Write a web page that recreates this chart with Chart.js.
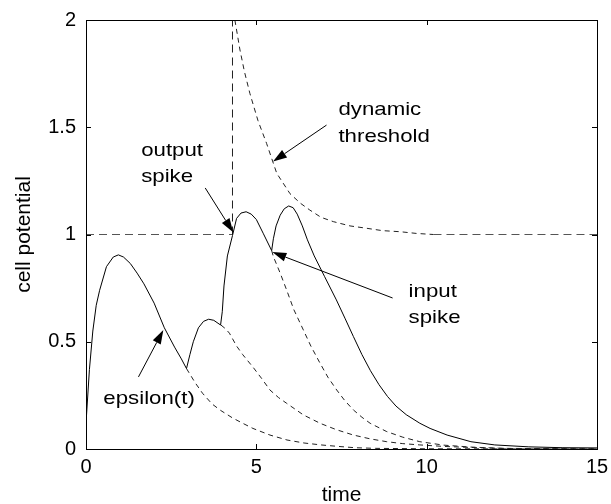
<!DOCTYPE html>
<html>
<head>
<meta charset="utf-8">
<title>cell potential</title>
<script src="https://cdn.jsdelivr.net/npm/chart.js@4.4.1/dist/chart.umd.min.js"></script>
<style>
  html, body { margin: 0; padding: 0; background: #fff; }
  #wrap { width: 611px; height: 504px; }
</style>
</head>
<body>
<div id="wrap"><canvas id="chart" width="611" height="504"></canvas></div>
<script>
'use strict';

// ── Data ───────────────────────────────────────────────────────────────────
// membrane potential (solid)
const potT = [0, 0.1, 0.2, 0.3, 0.4, 0.6, 0.8, 0.95, 1.1, 1.3, 1.5, 1.7, 2.0, 2.3, 2.6, 2.8, 2.95,
  3.05, 3.15, 3.3, 3.45, 3.6, 3.75, 3.95, 4.0, 4.05, 4.15, 4.3, 4.42, 4.55, 4.7, 4.85, 5.0, 5.2, 5.45,
  5.5, 5.58, 5.7, 5.82, 5.95, 6.08, 6.2, 6.35, 6.5, 6.7, 7.0, 7.35, 7.6, 7.85, 8.1, 8.35, 8.6, 8.85,
  9.1, 9.4, 9.8, 10.1, 10.6, 11.3, 12.0, 13.0, 14.0, 15.0];
const potV = [0.12, 0.37, 0.55, 0.67, 0.74, 0.85, 0.895, 0.905, 0.895, 0.865, 0.82, 0.77, 0.68, 0.565, 0.475, 0.42, 0.375,
  0.44, 0.5, 0.565, 0.595, 0.605, 0.6, 0.578, 0.64, 0.76, 0.9, 0.995, 1.075, 1.1, 1.106, 1.095, 1.07, 1.006, 0.925,
  0.98, 1.04, 1.09, 1.12, 1.133, 1.125, 1.095, 1.04, 0.975, 0.9, 0.805, 0.695, 0.61, 0.524, 0.44, 0.365, 0.3, 0.245,
  0.2, 0.16, 0.12, 0.096, 0.065, 0.034, 0.019, 0.01, 0.006, 0.005];

// tail of the first epsilon kernel (dashed)
const eps1T = [2.95, 3.2, 3.42, 3.7, 3.95, 4.3, 4.6, 4.9, 5.4, 5.9, 6.4, 6.9, 7.4, 7.9, 8.5, 10, 15];
const eps1V = [0.375, 0.31, 0.26, 0.21, 0.18, 0.145, 0.12, 0.096, 0.065, 0.042, 0.028, 0.019, 0.012, 0.006, 0.003, 0.001, 0];

// tail after the second input (dashed)
const eps2T = [3.96, 4.1, 4.21, 4.42, 4.6, 4.91, 5.15, 5.4, 5.65, 5.89, 6.38, 6.87, 7.35, 7.85, 8.35, 8.83, 9.3, 9.8, 10.5, 11.5, 12.5, 15];
const eps2V = [0.578, 0.56, 0.54, 0.48, 0.44, 0.38, 0.33, 0.275, 0.24, 0.213, 0.159, 0.12, 0.09, 0.065, 0.047, 0.034, 0.025, 0.019, 0.012, 0.006, 0.002, 0];

// tail after the third input (dashed)
const eps3T = [5.45, 5.5, 5.7, 5.89, 6.1, 6.38, 6.6, 6.87, 7.1, 7.36, 7.6, 7.85, 8.1, 8.34, 8.83, 9.3, 9.8, 10.5, 11.3, 12.2, 15];
const eps3V = [0.925, 0.897, 0.82, 0.741, 0.65, 0.555, 0.48, 0.4, 0.335, 0.275, 0.225, 0.182, 0.148, 0.12, 0.081, 0.055, 0.034, 0.018, 0.009, 0.003, 0];

// threshold: resting level, output spike, dynamic decay
const restLeftT  = [0, 4.3];
const restLeftV  = [1, 1];
const spikeT     = [4.3, 4.3];
const spikeV     = [1, 2];
const decayT = [4.37, 4.52, 4.65, 4.81, 5.05, 5.3, 5.6, 5.99, 6.3, 6.57, 6.9, 7.26, 7.75, 8.24, 8.7, 9.22, 9.7, 10.2];
const decayV = [2.0, 1.86, 1.76, 1.658, 1.53, 1.425, 1.285, 1.19, 1.145, 1.114, 1.08, 1.06, 1.04, 1.029, 1.018, 1.013, 1.005, 1.0];
const restRightT = [10.2, 15];
const restRightV = [1, 1];

const xTicks = [0, 5, 10, 15];
const yTicks = [0, 0.5, 1, 1.5, 2];

// annotations: text lines [t, v, text] and arrows [tailT, tailV, headT, headV]
const labels = [
  [7.41, 1.555, 'dynamic'], [7.41, 1.433, 'threshold'],
  [1.62, 1.367, 'output'],  [1.62, 1.246, 'spike'],
  [9.47, 0.709, 'input'],   [9.47, 0.587, 'spike'],
  [0.51, 0.21,  'epsilon(t)'],
];
const arrows = [
  [7.06, 1.51, 5.49, 1.34],
  [3.50, 1.217, 4.32, 1.01],
  [9.00, 0.704, 5.47, 0.918],
  [1.54, 0.336, 2.27, 0.555],
];

// ── Helpers ────────────────────────────────────────────────────────────────
const FONT = '"Liberation Sans", Arial, Helvetica, sans-serif';

function pts(ts, vs) {
  return ts.map((t, i) => ({ x: t, y: vs[i] }));
}

function line(ts, vs, color, dash) {
  return {
    data: pts(ts, vs),
    borderColor: color,
    borderWidth: 1,
    borderDash: dash,
    showLine: true,
    pointRadius: 0,
    tension: 0,
    fill: false,
  };
}

// MATLAB-style box with inward ticks, text labels and arrows
const matlabAxes = {
  id: 'matlabAxes',
  afterDraw(chart) {
    const { ctx, chartArea: a, scales: { x, y } } = chart;
    ctx.save();
    ctx.strokeStyle = '#000';
    ctx.lineWidth = 1;
    ctx.strokeRect(Math.round(a.left) + 0.5, Math.round(a.top) + 0.5,
      Math.round(a.right - a.left), Math.round(a.bottom - a.top));

    ctx.beginPath();
    xTicks.forEach(t => {
      const px = Math.round(x.getPixelForValue(t)) + 0.5;
      ctx.moveTo(px, a.bottom); ctx.lineTo(px, a.bottom - 5);
      ctx.moveTo(px, a.top);    ctx.lineTo(px, a.top + 5);
    });
    yTicks.forEach(v => {
      const py = Math.round(y.getPixelForValue(v)) + 0.5;
      ctx.moveTo(a.left, py);  ctx.lineTo(a.left + 5, py);
      ctx.moveTo(a.right, py); ctx.lineTo(a.right - 5, py);
    });
    ctx.stroke();

    // text (source figure is a little wider than tall)
    ctx.fillStyle = '#000';
    ctx.font = `19px ${FONT}`;
    ctx.textBaseline = 'alphabetic';
    labels.forEach(([t, v, s]) => {
      ctx.save();
      ctx.translate(x.getPixelForValue(t), y.getPixelForValue(v));
      ctx.scale(1.17, 1);
      ctx.fillText(s, 0, 0);
      ctx.restore();
    });

    // arrows
    arrows.forEach(([t0, v0, t1, v1]) => {
      const x0 = x.getPixelForValue(t0), y0 = y.getPixelForValue(v0);
      const x1 = x.getPixelForValue(t1), y1 = y.getPixelForValue(v1);
      const ang = Math.atan2(y1 - y0, x1 - x0);
      const len = 14, half = 4.5;
      const bx = x1 - len * Math.cos(ang), by = y1 - len * Math.sin(ang);
      ctx.beginPath();
      ctx.moveTo(x0, y0); ctx.lineTo(bx, by);
      ctx.stroke();
      ctx.beginPath();
      ctx.moveTo(x1, y1);
      ctx.lineTo(bx + half * Math.sin(ang), by - half * Math.cos(ang));
      ctx.lineTo(bx - half * Math.sin(ang), by + half * Math.cos(ang));
      ctx.closePath();
      ctx.fill();
    });
    ctx.restore();
  },
};

// ── Chart ──────────────────────────────────────────────────────────────────
new Chart(document.getElementById('chart'), {
  type: 'scatter',
  data: {
    datasets: [
      line(potT, potV, '#000', []),
      line(eps1T, eps1V, '#222', [5, 4]),
      line(eps2T, eps2V, '#222', [5, 4]),
      line(eps3T, eps3V, '#222', [5, 4]),
      line(restLeftT, restLeftV, '#555', [8, 5]),
      line(spikeT, spikeV, '#222', [8, 5]),
      line(decayT, decayV, '#222', [5, 4]),
      line(restRightT, restRightV, '#555', [8, 5]),
    ],
  },
  options: {
    responsive: false,
    animation: false,
    events: [],
    layout: { padding: { top: 20, right: 14, left: 0, bottom: 0 } },
    plugins: { legend: { display: false }, tooltip: { enabled: false } },
    scales: {
      x: {
        type: 'linear', min: 0, max: 15,
        afterBuildTicks: s => { s.ticks = xTicks.map(v => ({ value: v })); },
        afterFit: s => { s.height = 55; s.paddingLeft = 0; s.paddingRight = 0; },
        grid: { display: false, drawTicks: false },
        border: { display: false },
        ticks: { color: '#000', padding: 6, font: { family: FONT, size: 20 },
                 callback: v => String(v) },
        title: { display: true, text: 'time', color: '#000', padding: { top: 4, bottom: -4 },
                 font: { family: FONT, size: 21 } },
      },
      y: {
        type: 'linear', min: 0, max: 2,
        afterBuildTicks: s => { s.ticks = yTicks.map(v => ({ value: v })); },
        afterFit: s => { s.width = 86; s.paddingTop = 0; s.paddingBottom = 0; },
        grid: { display: false, drawTicks: false },
        border: { display: false },
        ticks: { color: '#000', padding: 10, font: { family: FONT, size: 20 },
                 callback: v => String(v) },
        title: { display: true, text: 'cell potential', color: '#000', padding: { top: 12, bottom: 0 },
                 font: { family: FONT, size: 21 } },
      },
    },
  },
  plugins: [matlabAxes],
});
</script>
</body>
</html>
